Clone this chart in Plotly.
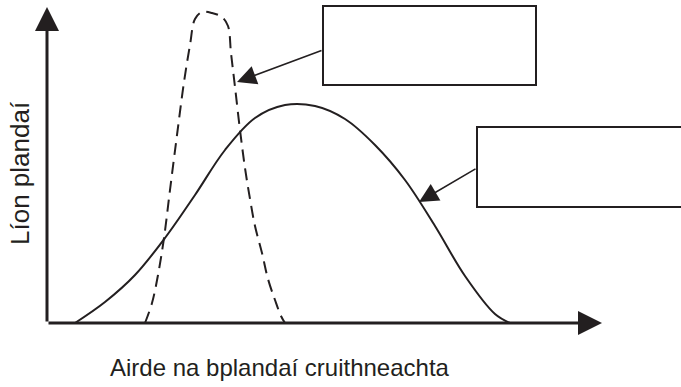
import plotly.graph_objects as go

# solid curve (second population), x = plant height, y = number of plants
solid_x = [28, 58, 88, 118, 148, 178, 208, 238, 268, 298, 328, 358, 388, 418, 448, 463]
solid_y = [0, 21, 48, 85, 128, 173, 205, 218, 217, 204, 178, 143, 97, 47, 9, 0]

# dashed curve (narrow population)
dashed_x = [98, 105, 111, 117, 123, 130, 137, 143, 148, 155, 165, 175, 181, 184, 188, 193, 198, 203, 208, 215, 221, 228, 234, 238]
dashed_y = [0, 20, 48, 85, 133, 188, 241, 278, 304, 311, 310, 306, 297, 270, 236, 193, 155, 124, 97, 70, 44, 23, 7, 0]

x_label = "Airde na bplandaí cruithneachta"
y_label = "Líon plandaí"

ink = "#231f20"

fig = go.Figure()

fig.add_trace(go.Scatter(
    x=solid_x, y=solid_y,
    mode="lines",
    line=dict(color=ink, width=2, shape="spline", smoothing=1),
    hoverinfo="skip"
))

fig.add_trace(go.Scatter(
    x=dashed_x, y=dashed_y,
    mode="lines",
    line=dict(color=ink, width=2, shape="spline", smoothing=1, dash="12px,7px"),
    hoverinfo="skip"
))

# axes drawn as arrows
axis_arrow = dict(text="", showarrow=True, arrowhead=2, arrowsize=1.6, arrowwidth=3,
                  arrowcolor=ink, axref="x", ayref="y", ax=0, ay=0)
fig.add_annotation(x=555, y=0, **axis_arrow)
fig.add_annotation(x=0, y=316, **axis_arrow)

# empty label boxes
fig.add_shape(type="rect", x0=276, x1=489, y0=238, y1=317, line=dict(color=ink, width=2))
fig.add_shape(type="rect", x0=430, x1=700, y0=116, y1=196, line=dict(color=ink, width=2))

# pointer arrows from the boxes to the curves
pointer = dict(text="", showarrow=True, arrowhead=2, arrowsize=2.4, arrowwidth=1.6,
               arrowcolor=ink, axref="x", ayref="y")
fig.add_annotation(x=190, y=241, ax=276, ay=273, **pointer)
fig.add_annotation(x=372, y=121, ax=430, ay=155, **pointer)

fig.add_annotation(x=233, y=-44, text=x_label, showarrow=False,
                   font=dict(family="Liberation Sans, Arial", size=24, color=ink))
fig.add_annotation(x=-27, y=150, text=y_label, showarrow=False, textangle=-90,
                   font=dict(family="Liberation Sans, Arial", size=26, color=ink))

fig.update_layout(
    width=681, height=387,
    margin=dict(l=0, r=0, t=0, b=0),
    paper_bgcolor="white", plot_bgcolor="white",
    showlegend=False,
    xaxis=dict(range=[-47, 634], visible=False, fixedrange=True),
    yaxis=dict(range=[-64, 323], visible=False, fixedrange=True),
)

# drop the default body margin so the figure sits at the page corner
fig.write_html("out.html", config={"displayModeBar": False},
               post_script="document.body.style.margin='0';")
